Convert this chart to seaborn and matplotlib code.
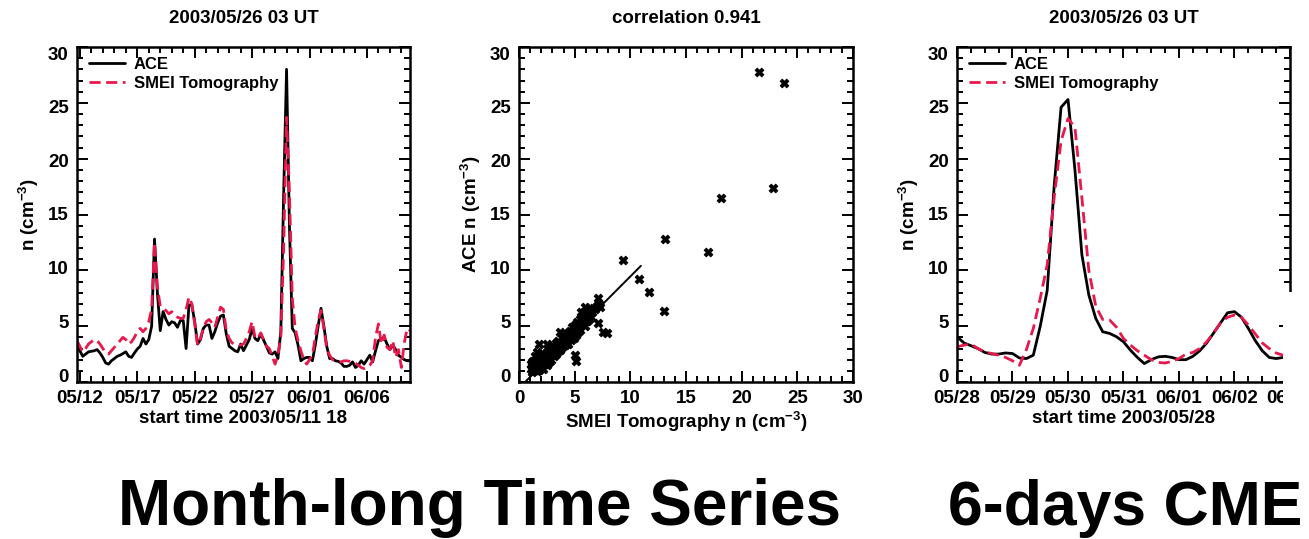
import numpy as np
import matplotlib
matplotlib.use("Agg")
import matplotlib.pyplot as plt
import matplotlib.transforms as mtransforms
from matplotlib.patches import Rectangle
from matplotlib.ticker import MultipleLocator, FixedLocator, FixedFormatter
import seaborn as sns

# ---------------- data ----------------
# Month-long series: 6-hourly, days since 2003/05/11 18 UT
month_days = np.arange(117) * 0.25
month_ace = [3.4, 2.8, 2.3, 2.5, 2.7, 2.75, 2.8, 2.9, 2.6, 2.2, 1.7, 1.6,
             1.9, 2.1, 2.3, 2.4, 2.55, 2.7, 2.3, 2.2, 2.6, 2.95, 3.2, 3.9,
             3.4, 3.8, 5.0, 12.8, 8.0, 4.6, 6.3, 5.6, 5.1, 5.4, 5.3, 4.9,
             5.5, 5.5, 3.0, 6.9, 6.9, 5.4, 3.4, 3.8, 4.8, 5.1, 5.1, 3.9,
             4.5, 5.3, 5.9, 6.0, 4.3, 3.2, 3.0, 2.8, 2.7, 3.4, 2.8, 3.3,
             3.8, 4.8, 3.9, 3.7, 4.3, np.nan, 3.2, 2.6, 2.5, 2.7, 2.1, 4.5,
             17.0, 28.0, 14.0, 4.8, 4.4, 3.3, 1.9, 2.1, 2.2, 2.2, 1.9, 3.3,
             5.0, 6.6, 5.0, 3.2, 2.1, 2.1, 1.9, 1.85, 1.7, 1.4, 1.4, 1.5,
             1.8, 1.3, 1.5, 1.9, 1.6, 2.0, 2.4, 1.8, 2.8, 3.7, 3.9, 4.0,
             3.4, 2.9, 3.3, 2.9, 2.4, 2.2, 2.0, 1.9, 1.9]
month_smei = [3.7, 3.2, 2.7, 3.0, 3.4, 3.6, 3.8, 3.7, 3.4, 3.0, 2.6, 2.5,
              2.8, 3.1, 3.4, 3.7, 4.0, 3.8, 3.4, 3.6, 4.0, 4.5, 4.8, 4.5,
              4.8, 5.4, 6.5, 12.5, 8.5, 6.8, 6.6, 6.4, 6.1, 6.3, 6.0, 5.8,
              5.7, 5.7, 6.5, 7.6, 7.0, 5.2, 3.3, 3.9, 4.8, 5.4, 5.6, 5.3,
              4.9, 5.8, 6.7, 6.5, 4.6, 3.9, 3.5, 3.4, 3.35, 3.3, 3.4, 3.9,
              4.5, 5.4, 4.0, 3.9, 4.4, 3.8, 3.2, 3.0, 2.3, 1.6, 2.4, 4.0,
              12.0, 23.7, 17.0, 7.5, 4.8, 3.7, 2.8, 2.0, 1.6, 2.0, 2.4, 4.0,
              5.5, 6.4, 4.8, 3.0, 2.4, 2.0, 1.9, 1.8, 1.8, 1.9, 1.9, 1.85,
              1.8, 1.7, 1.5, 1.3, 1.2, 1.3, 1.5, 1.9, 4.0, 5.2, 3.4, 4.2,
              3.1, 2.9, 3.7, 2.2, 2.9, 1.3, 3.5, 4.8, 4.6]
month_tick_pos = [0.25, 5.25, 10.25, 15.25, 20.25, 25.25]
month_tick_lab = ["05/12", "05/17", "05/22", "05/27", "06/01", "06/06"]

# Scatter: SMEI (x) vs ACE (y)
sc_smei = [1.1, 1.1, 1.2, 1.3, 1.3, 1.4, 1.5, 1.5, 1.6, 1.7, 1.7, 1.8, 1.8, 1.9,
           2.0, 2.0, 2.1, 2.2, 2.2, 2.3, 2.4, 2.4, 2.5, 2.6, 2.7, 2.7, 2.8, 2.9,
           3.0, 3.0, 3.1, 3.2, 3.3, 3.3, 3.4, 3.5, 3.5, 3.6, 3.7, 3.8, 3.9, 3.9,
           4.0, 4.1, 4.2, 4.3, 4.4, 4.4, 4.5, 4.6, 4.7, 4.7, 4.8, 4.9, 4.9, 5.0,
           5.0, 5.1, 5.2, 5.2, 5.3, 5.4, 5.5, 5.5, 5.6, 5.7, 5.8, 5.9, 6.0, 6.1,
           6.2, 6.3, 6.4, 6.5, 6.6, 6.8, 7.0, 7.2, 7.3, 6.3, 5.8, 1.4, 1.2, 1.6,
           1.8, 2.5, 3.7, 5.0, 5.1, 5.6, 5.9, 7.1, 7.1, 7.5, 7.9, 9.3, 10.8,
           11.7, 13.0, 13.1, 17.0, 18.1, 21.6, 22.8, 23.8]
sc_ace = [1.2, 1.6, 0.9, 1.4, 1.9, 1.1, 1.6, 2.2, 1.0, 1.4, 1.9, 2.4, 1.1, 1.6,
          2.1, 1.3, 1.8, 2.4, 1.2, 1.6, 2.0, 2.6, 1.5, 2.2, 1.8, 2.8, 2.4, 2.0,
          2.7, 3.3, 2.3, 2.9, 3.5, 2.5, 3.1, 2.8, 3.7, 3.3, 2.9, 3.5, 3.9, 3.1,
          3.6, 3.3, 4.1, 3.7, 3.4, 4.4, 3.9, 4.6, 3.8, 4.2, 4.9, 4.4, 3.9, 5.1,
          4.6, 4.2, 4.9, 5.4, 4.5, 5.1, 5.6, 4.7, 5.2, 5.8, 5.4, 5.0, 5.9, 5.5,
          6.0, 5.6, 6.2, 5.8, 6.3, 6.5, 6.8, 7.0, 6.7, 6.6, 6.3, 2.3, 1.8, 2.7,
          3.4, 3.4, 4.5, 2.4, 1.9, 6.3, 6.7, 7.5, 5.3, 4.5, 4.4, 10.9, 9.2,
          8.1, 6.4, 12.8, 11.6, 16.5, 27.8, 17.4, 26.8]
fit_x = [0.55, 10.95]
fit_y = [0.0, 10.4]

# CME series: 3-hourly, days since 2003/05/28 00 UT
cme_days = np.arange(48) * 0.125
cme_ace = [4.06, 3.5, 3.25, 3.0, 2.65, 2.5, 2.5, 2.6, 2.55, 2.15, 2.1, 2.4,
           5.0, 8.2, 17.5, 24.6, 25.3, 19.0, 11.4, 7.8, 5.7, 4.5, 4.35, 4.05,
           3.6, 2.85, 2.2, 1.65, 2.0, 2.25, 2.3, 2.2, 2.0, 2.0, 2.3, 2.8,
           3.5, 4.4, 5.3, 6.2, 6.3, 5.8, 4.8, 3.7, 2.8, 2.2, 2.1, 2.2]
cme_smei = [3.15, 3.3, 3.4, 3.0, 2.7, 2.55, 2.4, 2.2, 1.9, 1.5, 2.9, 4.8,
            7.5, 10.5, 16.5, 21.6, 23.6, 22.8, 16.5, 10.0, 6.8, 5.6, 5.55, 4.9,
            3.9, 3.3, 2.8, 2.4, 2.0, 1.75, 1.7, 1.85, 2.1, 2.5, 2.65, 3.0,
            3.6, 4.4, 5.3, 5.8, 6.0, 5.8, 5.1, 4.3, 3.5, 3.0, 2.6, 2.4]
cme_tick_pos = [0, 1, 2, 3, 4, 5, 6]
cme_tick_lab = ["05/28", "05/29", "05/30", "05/31", "06/01", "06/02", "06/03"]

# ---------------- style ----------------
sns.set_style("ticks")
FAM = ["Liberation Sans", "DejaVu Sans"]
plt.rcParams["font.family"] = FAM
plt.rcParams["font.weight"] = "bold"
plt.rcParams["text.color"] = "black"
plt.rcParams["axes.labelcolor"] = "black"
plt.rcParams["xtick.color"] = "black"
plt.rcParams["ytick.color"] = "black"
plt.rcParams["mathtext.fontset"] = "custom"
plt.rcParams["mathtext.rm"] = "Liberation Sans:bold"
plt.rcParams["mathtext.it"] = "Liberation Sans:bold"
plt.rcParams["mathtext.bf"] = "Liberation Sans:bold"
plt.rcParams["axes.linewidth"] = 1.6

RED = "#e8184c"
FS = 13.5

fig = plt.figure(figsize=(13.09, 5.39), dpi=100)
W, H = 1309.0, 539.0


def ax_at(l, r, t, b):
    return fig.add_axes([l / W, 1 - b / H, (r - l) / W, (b - t) / H])


ax1 = ax_at(77, 410, 47, 382)
ax2 = ax_at(519, 853, 47, 382)
ax3 = ax_at(957, 1290, 47, 382)

YLAB = "n (cm$^{\\mathregular{-3}}$)"


def style(ax):
    ax.set_ylim(0, 30)
    ax.yaxis.set_major_locator(MultipleLocator(5))
    ax.yaxis.set_minor_locator(MultipleLocator(1))
    ax.tick_params(which="both", direction="in", top=True, right=True,
                   labelsize=FS, width=1.4, colors="black")
    ax.tick_params(axis="x", which="both", pad=6)
    ax.tick_params(axis="y", which="both", pad=6)
    ax.tick_params(which="major", length=8)
    ax.tick_params(which="minor", length=4)
    for s in ax.spines.values():
        s.set_linewidth(1.8)
        s.set_color("black")
    # IDL-like placement: y labels slightly compressed toward the centre
    ticks = ax.get_yticks()
    for v, lab in zip(ticks, ax.get_yticklabels()):
        lab.set_fontweight("bold")
        dy_px = 6 - (30 - v) / 30 * 13
        off = mtransforms.ScaledTranslation(0, -dy_px / 100, fig.dpi_scale_trans)
        lab.set_transform(lab.get_transform() + off)
    for lab in ax.get_xticklabels():
        lab.set_fontweight("bold")


def series(ax, x, ace, smei):
    sns.lineplot(x=x, y=ace, ax=ax, color="black", lw=2.0, label="ACE",
                 estimator=None, sort=False)
    sns.lineplot(x=x, y=smei, ax=ax, color=RED, lw=2.0,
                 linestyle=(0, (4, 2)), label="SMEI Tomography",
                 estimator=None, sort=False)
    ax.legend(loc="upper left", bbox_to_anchor=(0.035, 0.97), frameon=False,
              handlelength=2.2, handletextpad=0.5,
              labelspacing=0.25, borderpad=0, borderaxespad=0,
              prop={"family": FAM, "weight": "bold", "size": 12})
    ax.set_ylabel(YLAB, fontsize=FS, fontweight="bold", labelpad=5)


# ---- left panel ----
series(ax1, month_days, month_ace, month_smei)
ax1.set_xlim(0, 29)
ax1.xaxis.set_major_locator(FixedLocator(month_tick_pos))
ax1.xaxis.set_major_formatter(FixedFormatter(month_tick_lab))
ax1.xaxis.set_minor_locator(FixedLocator(np.arange(0.25, 29, 1.0)))
ax1.set_xlabel("start time 2003/05/11 18", fontsize=FS, fontweight="bold",
               labelpad=2)
ax1.set_title("2003/05/26 03 UT", fontsize=FS, fontweight="bold", pad=17)
style(ax1)

# ---- middle panel ----
sns.scatterplot(x=sc_smei, y=sc_ace, ax=ax2, marker="X", s=40, color="black",
                edgecolor="black", linewidth=0.6, zorder=3)
sns.lineplot(x=fit_x, y=fit_y, ax=ax2, color="black", lw=1.4)
ax2.set_xlim(0, 30)
ax2.xaxis.set_major_locator(MultipleLocator(5))
ax2.xaxis.set_minor_locator(MultipleLocator(1))
ax2.set_xlabel("SMEI Tomography " + YLAB, fontsize=FS,
               fontweight="bold", labelpad=2)
ax2.set_ylabel("ACE " + YLAB, fontsize=FS, fontweight="bold",
               labelpad=5)
ax2.set_title("correlation 0.941", fontsize=FS, fontweight="bold", pad=17)
style(ax2)

# ---- right panel ----
series(ax3, cme_days, cme_ace, cme_smei)
ax3.set_xlim(0, 6)
ax3.xaxis.set_major_locator(FixedLocator(cme_tick_pos))
ax3.xaxis.set_major_formatter(FixedFormatter(cme_tick_lab))
ax3.xaxis.set_minor_locator(MultipleLocator(0.25))
ax3.set_xlabel("start time 2003/05/28", fontsize=FS, fontweight="bold",
               labelpad=2)
ax3.set_title("2003/05/26 03 UT", fontsize=FS, fontweight="bold", pad=17)
style(ax3)

# screenshot cut at right edge
fig.add_artist(Rectangle((1283 / W, 1 - 430 / H), (W - 1283) / W,
                         (430 - 292) / H, transform=fig.transFigure,
                         facecolor="white", edgecolor="none", zorder=10))

# big captions
fig.text(479 / W, 1 - 525 / H, "Month-long Time Series", ha="center",
         va="baseline", fontsize=46, fontweight="bold", color="black")
fig.text(948 / W, 1 - 525 / H, "6-days CME", ha="left", va="baseline",
         fontsize=45, fontweight="bold", color="black")

fig.savefig("out.png", dpi=100, facecolor="white")
